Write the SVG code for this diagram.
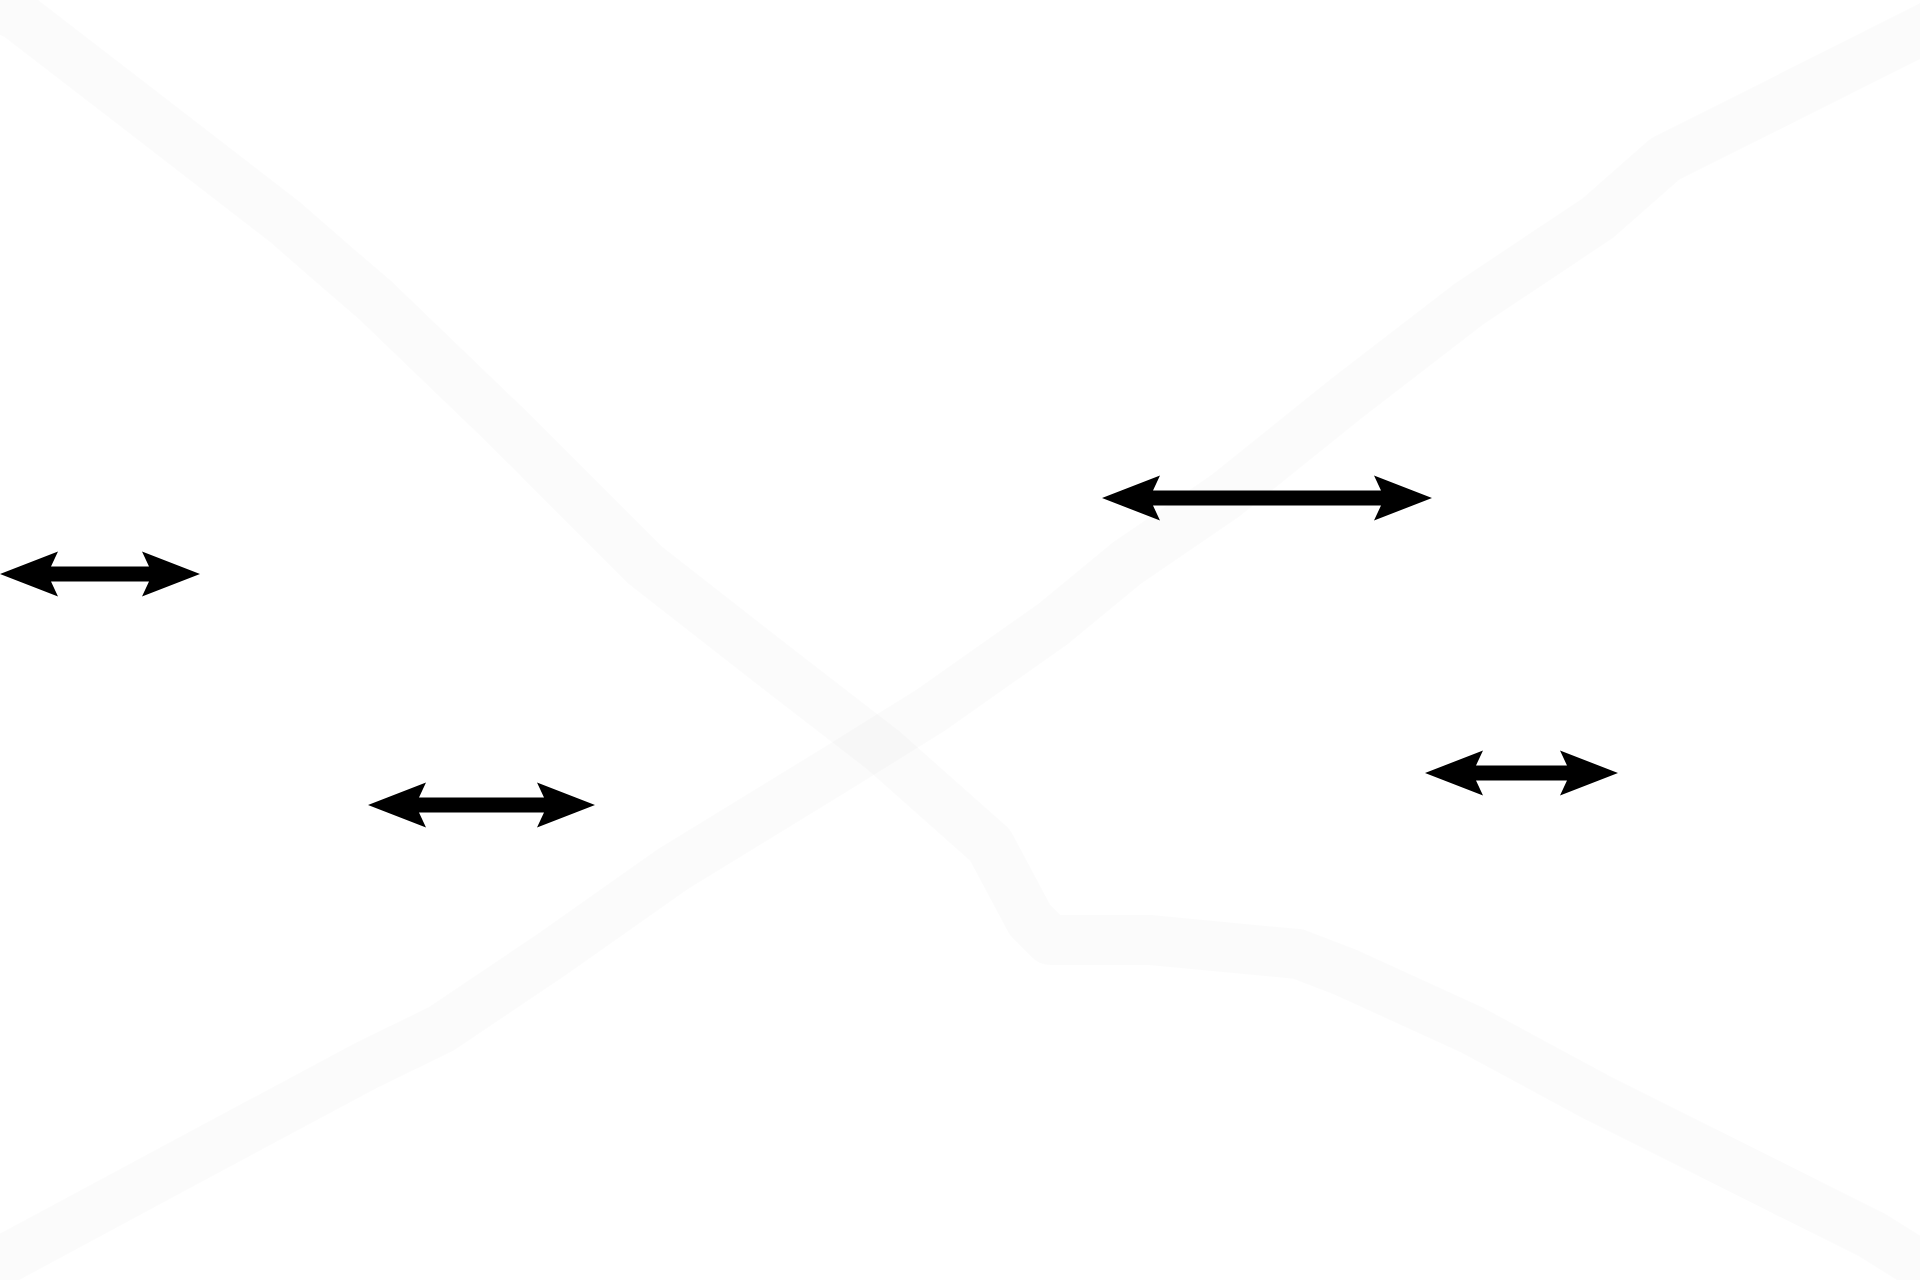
<svg xmlns="http://www.w3.org/2000/svg" width="1920" height="1280" viewBox="0 0 1920 1280">
<style>
.band{fill:none;stroke:#000;stroke-opacity:0.016;stroke-width:50;stroke-linejoin:round;stroke-linecap:butt}
.arrow{fill:#000;stroke:none}
</style>
<rect x="0" y="0" width="1920" height="1280" fill="#fff"/>
<g id="bands">
<polyline class="band" points="-30,-8 18,16 140,110 285,222 340,270 375,300 505,425 645,565 782,672 883,750 990,845 1030,920 1050,940 1150,940 1298,954 1345,972 1472,1030 1596,1097 1872,1235 1960,1290"/>
<polyline class="band" points="-20,1272 0,1262 184,1163 367,1065 441,1029 551,955 673,869 833,771 931,710 1053,624 1127,563 1225,496 1347,398 1469,304 1598,218 1665,159 1763,110 1920,31 1950,16"/>
</g>
<g id="connectors">
<g id="arrow1"><path class="arrow" d="M0 574 L58 551.5 L51 566.5 L149 566.5 L142 551.5 L200 574 L142 596.5 L149 581.5 L51 581.5 L58 596.5 Z"/></g>
<g id="arrow2"><path class="arrow" d="M368 805 L426 782.5 L419 797.5 L544 797.5 L537 782.5 L595 805 L537 827.5 L544 812.5 L419 812.5 L426 827.5 Z"/></g>
<g id="arrow3"><path class="arrow" d="M1102 498 L1160 475.5 L1153 490.5 L1381 490.5 L1374 475.5 L1432 498 L1374 520.5 L1381 505.5 L1153 505.5 L1160 520.5 Z"/></g>
<g id="arrow4"><path class="arrow" d="M1425 773 L1483 750.5 L1476 765.5 L1567 765.5 L1560 750.5 L1618 773 L1560 795.5 L1567 780.5 L1476 780.5 L1483 795.5 Z"/></g>
</g>
</svg>
